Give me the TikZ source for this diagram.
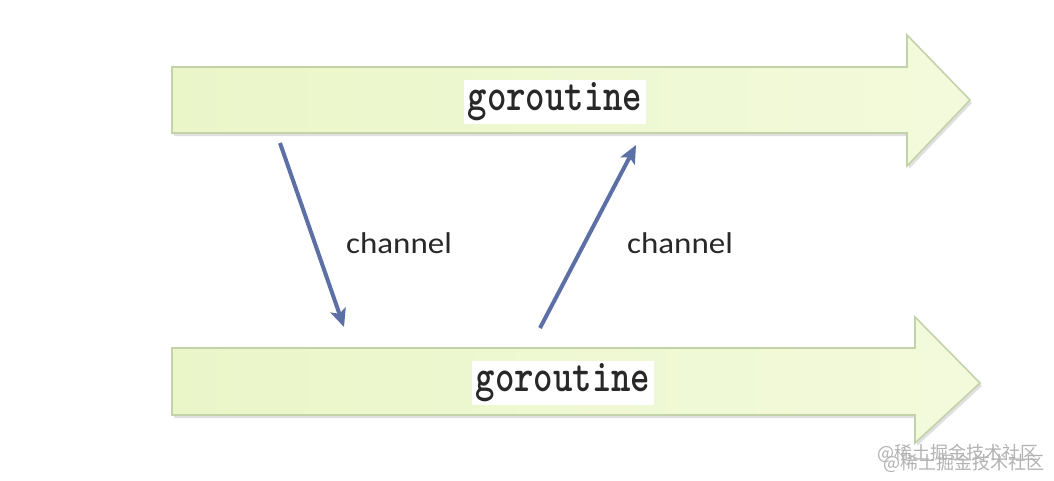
\documentclass[tikz,border=0pt]{standalone}
\usepackage{fontspec}
\newfontfamily\chfont{Carlito}
\newfontfamily\wmfont{Noto Sans CJK SC}
\usetikzlibrary{arrows.meta}
\definecolor{barleft}{RGB}{234,246,200}
\definecolor{barright}{RGB}{243,250,220}
\definecolor{baredge}{RGB}{196,210,170}
\definecolor{chanblue}{RGB}{92,112,165}
\definecolor{inkgray}{RGB}{40,40,40}
\tikzset{
  gobar/.style={draw=baredge, line width=1.6pt, line join=miter, left color=barleft, right color=barright},
  goshadow/.style={fill=black, opacity=0.12},
  golabel/.style={fill=white, inner xsep=4pt, inner ysep=3pt, text=inkgray, font=\ttfamily\bfseries\fontsize{37}{37}\selectfont},
  chan/.style={draw=chanblue, line width=4pt, -{Stealth[length=18pt,width=16pt,inset=4pt]}},
  chlabel/.style={text=inkgray, font=\chfont\fontsize{30}{30}\selectfont},
  wmark/.style={text=black!30, inner sep=0pt, anchor=west, font=\wmfont\fontsize{18}{18}\selectfont}
}
\begin{document}
\begin{tikzpicture}[x=1pt,y=-1pt]
  \useasboundingbox[fill=white] (0,0) rectangle (1054,480);

  % upper goroutine
  \fill[goshadow] (174,70) -- (909,70) -- (909,38) -- (972,103) -- (909,169) -- (909,136) -- (174,136) -- cycle;
  \path[gobar] (172,67) -- (907,67) -- (907,35) -- (970,100) -- (907,166) -- (907,133) -- (172,133) -- cycle;
  \node[golabel] (gotop) at (555,102) {\scalebox{1}[1.25]{goroutine}};

  % lower goroutine
  \fill[goshadow] (174,351) -- (917,351) -- (917,320) -- (982,386) -- (917,446) -- (917,418) -- (174,418) -- cycle;
  \path[gobar] (172,348) -- (915,348) -- (915,317) -- (980,383) -- (915,443) -- (915,415) -- (172,415) -- cycle;
  \node[golabel] (gobot) at (563,383) {\scalebox{1}[1.25]{goroutine}};

  % channels
  \coordinate (sendA) at (280,143);
  \coordinate (recvA) at (344,327);
  \coordinate (sendB) at (540,328);
  \coordinate (recvB) at (636,145);
  \draw[chan] (sendA) -- (recvA);
  \draw[chan] (sendB) -- (recvB);
  \node[chlabel] (chleft) at (399,243) {\scalebox{1.1}[1]{channel}};
  \node[chlabel] (chright) at (680,243) {\scalebox{1.1}[1]{channel}};

  % watermark
  \node[wmark] (wmA) at (877,453) {@稀土掘金技术社区};
  \node[wmark] (wmB) at (883,463) {@稀土掘金技术社区};
\end{tikzpicture}
\end{document}
